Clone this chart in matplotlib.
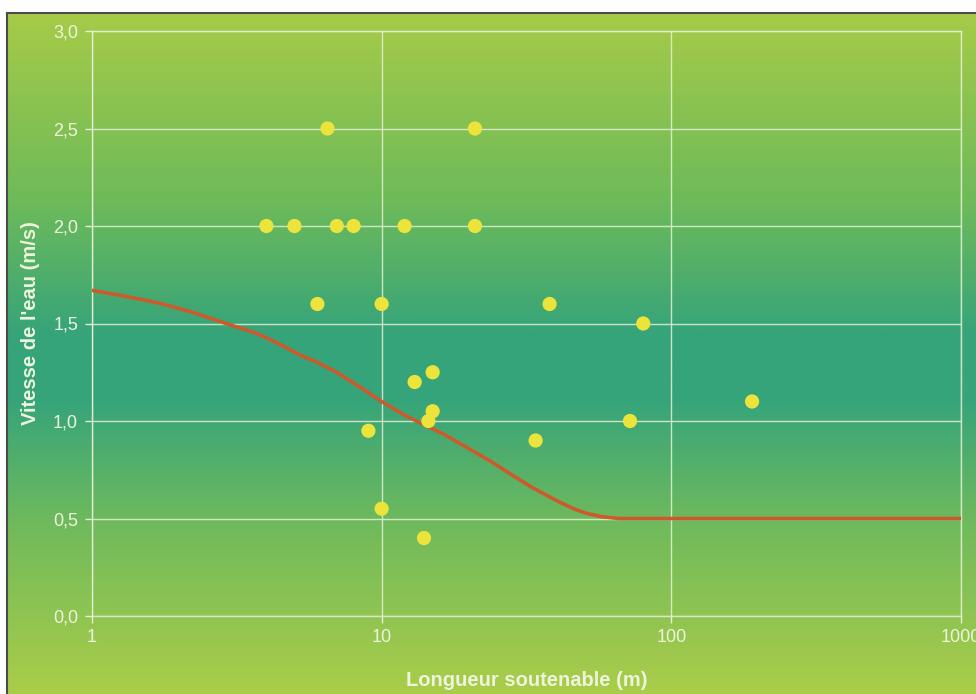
import numpy as np
import matplotlib
matplotlib.use('Agg')
import matplotlib.pyplot as plt
from matplotlib.colors import LinearSegmentedColormap
from matplotlib.ticker import FuncFormatter, FixedLocator, NullLocator

# data
pts_x = [4, 5, 6.5, 7, 8, 6, 10, 12, 21, 21, 9, 10, 13, 15, 15, 14.5, 14, 38, 34, 80, 72, 190]
pts_y = [2.0, 2.0, 2.5, 2.0, 2.0, 1.6, 1.6, 2.0, 2.5, 2.0, 0.95, 0.55, 1.2, 1.25, 1.05, 1.0, 0.4, 1.6, 0.9, 1.5, 1.0, 1.1]
curve_x = [1, 1.3, 1.7, 2.2, 2.9, 3.7, 4.5, 5.2, 6, 7, 8.5, 10, 12, 14.5, 16.5, 18.6, 21,
           24, 28.4, 33, 37, 41, 46, 50, 57, 66, 100, 1000]
curve_y = [1.67, 1.64, 1.605, 1.56, 1.50, 1.45, 1.39, 1.34, 1.30, 1.25, 1.17, 1.10, 1.03, 0.97,
           0.93, 0.885, 0.84, 0.79, 0.72, 0.66, 0.62, 0.585, 0.55, 0.53, 0.51, 0.50, 0.50, 0.50]
x_ticks = [1, 10, 100, 1000]
y_ticks = [0.0, 0.5, 1.0, 1.5, 2.0, 2.5, 3.0]

txt_col = '#eef4dc'
grid_col = '#e6f0d6'

fig = plt.figure(figsize=(9.76, 6.94), dpi=100)
fig.patch.set_facecolor('white')

# gradient background inside the frame
bg = fig.add_axes([7 / 976, 0, 1 - 7 / 976, 1 - 13 / 694])
cmap = LinearSegmentedColormap.from_list('bg', [
    (0.00, '#a6cb48'),
    (0.28, '#6cba5a'),
    (0.47, '#36a47a'),
    (0.57, '#36a47a'),
    (0.75, '#6fba5c'),
    (1.00, '#aacd49'),
])
grad = np.linspace(0, 1, 400).reshape(-1, 1)
bg.imshow(grad, aspect='auto', cmap=cmap, extent=[0, 1, 0, 1], origin='upper')
bg.set_xlim(0, 1)
bg.set_ylim(0, 1)
bg.set_xticks([])
bg.set_yticks([])
for s in ['right', 'bottom']:
    bg.spines[s].set_visible(False)
for s in ['left', 'top']:
    bg.spines[s].set_color('#4a4a4a')
    bg.spines[s].set_linewidth(1.5)

ax = fig.add_axes([92 / 976, 1 - 616 / 694, (961 - 92) / 976, (616 - 31) / 694])
ax.patch.set_alpha(0)
ax.set_xscale('log')
ax.set_xlim(1, 1000)
ax.set_ylim(0, 3.0)

ax.plot(curve_x, curve_y, color='#cc5a2c', lw=2.6, zorder=3, solid_joinstyle='round')
ax.scatter(pts_x, pts_y, s=105, color='#ece43a', edgecolors='none', zorder=4)

ax.xaxis.set_major_locator(FixedLocator(x_ticks))
ax.xaxis.set_minor_locator(NullLocator())
ax.xaxis.set_major_formatter(FuncFormatter(lambda v, p: f'{v:g}'))
ax.set_yticks(y_ticks)
ax.yaxis.set_major_formatter(FuncFormatter(lambda v, p: f'{v:.1f}'.replace('.', ',')))

ax.grid(True, color=grid_col, lw=1.0, alpha=0.85)
ax.set_axisbelow(True)
for s in ax.spines.values():
    s.set_color(grid_col)
    s.set_linewidth(1.0)
    s.set_alpha(0.85)
ax.tick_params(colors=grid_col, labelcolor=txt_col, labelsize=13, length=5, width=1)
ax.tick_params(axis='y', pad=5)
ax.tick_params(axis='x', pad=4)
for lab in ax.get_xticklabels() + ax.get_yticklabels():
    lab.set_family('Liberation Sans')

ax.set_xlabel('Longueur soutenable (m)', color=txt_col, fontsize=14.5, fontweight='bold',
              family='Liberation Sans', labelpad=18)
ax.set_ylabel("Vitesse de l'eau (m/s)", color=txt_col, fontsize=14.5, fontweight='bold',
              family='Liberation Sans', labelpad=9)

fig.savefig('out.png', dpi=100)
